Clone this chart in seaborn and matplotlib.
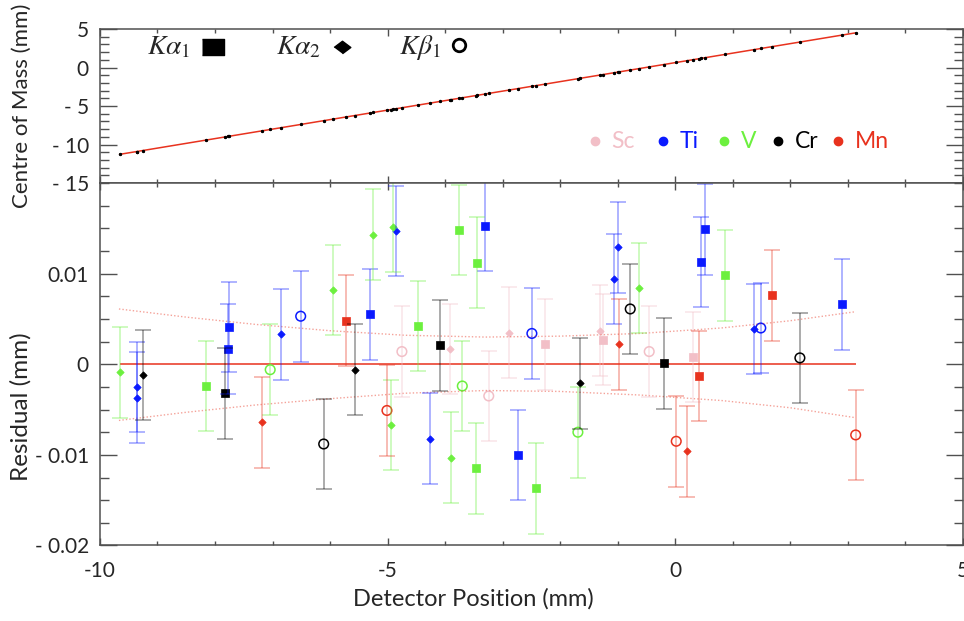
import pandas as pd
import matplotlib
matplotlib.use("Agg")
import matplotlib.pyplot as plt
from matplotlib.ticker import MultipleLocator, FixedLocator
import seaborn as sns

# elements and their colours
elements = ["Sc", "Ti", "V", "Cr", "Mn"]
element_colors = ["#f2bfc7", "#0a1aff", "#6cf03e", "#000000", "#e8321e"]

# K-alpha1 lines (squares)
ka1_elem = ["Sc", "Sc", "Sc", "Ti", "Ti", "Ti", "Ti", "Ti", "Ti", "Ti", "Ti",
            "V", "V", "V", "V", "V", "V", "V", "Cr", "Cr", "Cr", "Mn", "Mn", "Mn"]
ka1_pos = [-2.26, -1.25, 0.32, -7.76, -7.77, -5.30, -3.31, -2.74, 0.45, 0.52, 2.91,
           -8.15, -4.47, -3.75, -3.47, -3.44, -2.42, 0.86, -7.82, -4.09, -0.20,
           -5.73, 0.42, 1.69]
ka1_res = [0.0022, 0.0027, 0.0008, 0.0041, 0.0017, 0.0055, 0.0153, -0.0100, 0.0113,
           0.0149, 0.0066, -0.0024, 0.0042, 0.0148, -0.0115, 0.0112, -0.0137, 0.0098,
           -0.0032, 0.0021, 0.0001, 0.0048, -0.0013, 0.0076]
ka1_com = [-2.16, -0.91, 1.02, -8.94, -8.95, -5.90, -3.45, -2.75, 1.18, 1.27, 4.22,
           -9.42, -4.88, -3.99, -3.65, -3.61, -2.35, 1.69, -9.01, -4.41, 0.38,
           -6.44, 1.15, 2.71]

# K-alpha2 lines (diamonds)
ka2_elem = ["Sc", "Sc", "Sc", "Ti", "Ti", "Ti", "Ti", "Ti", "Ti", "Ti", "Ti",
            "V", "V", "V", "V", "V", "V", "V", "Cr", "Cr", "Cr", "Mn", "Mn", "Mn"]
ka2_pos = [-3.91, -2.88, -1.30, -9.36, -9.36, -6.85, -4.85, -4.26, -1.06, -0.99, 1.37,
           -9.66, -5.95, -5.25, -4.94, -4.90, -3.89, -0.63, -9.26, -5.57, -1.65,
           -7.18, -0.97, 0.20]
ka2_res = [0.0017, 0.0035, 0.0037, -0.0025, -0.0037, 0.0033, 0.0147, -0.0082, 0.0094,
           0.0129, 0.0039, -0.0009, 0.0082, 0.0143, -0.0067, 0.0152, -0.0103, 0.0084,
           -0.0012, -0.0006, -0.0021, -0.0064, 0.0022, -0.0096]
ka2_com = [-4.19, -2.92, -0.97, -10.91, -10.91, -7.82, -5.35, -4.62, -0.68, -0.59, 2.32,
           -11.28, -6.71, -5.84, -5.46, -5.41, -4.17, -0.15, -10.79, -6.24, -1.40,
           -8.22, -0.57, 0.88]

# K-beta1 lines (open circles)
kb1_elem = ["Sc", "Sc", "Sc", "Ti", "Ti", "Ti", "V", "V", "V",
            "Cr", "Cr", "Cr", "Mn", "Mn", "Mn"]
kb1_pos = [-4.75, -3.24, -0.45, -6.51, -2.49, 1.49, -7.04, -3.70, -1.69,
           -6.11, -0.78, 2.17, -5.01, 0.02, 3.14]
kb1_res = [0.0014, -0.0035, 0.0014, 0.0053, 0.0034, 0.0040, -0.0006, -0.0024, -0.0075,
           -0.0088, 0.0061, 0.0007, -0.0051, -0.0085, -0.0078]
kb1_com = [-5.23, -3.37, 0.08, -7.40, -2.44, 2.47, -8.05, -3.93, -1.45,
           -6.90, -0.33, 3.31, -5.55, 0.65, 4.50]

res_err = 0.005
com_err = 0.12

# confidence band of the fit (dotted curves)
band_pos = [-9.67, -8.5, -7.3, -6.0, -4.7, -3.3, -2.0, -0.6, 0.8, 2.0, 3.14]
band_hi = [0.0061, 0.0052, 0.0044, 0.0037, 0.0032, 0.0030, 0.0031, 0.0034, 0.0040, 0.0048, 0.0058]
band_lo = [-0.0062, -0.0053, -0.0045, -0.0038, -0.0032, -0.0029, -0.0030, -0.0034, -0.0040, -0.0048, -0.0059]

pos_ticks = [-10, -5, 0, 5]
pos_labels = ["-10", "-5", "0", "5"]
com_ticks = [-15, -10, -5, 0, 5]
com_labels = ["- 15", "- 10", "- 5", "0", "5"]
res_ticks = [-0.02, -0.01, 0, 0.01]
res_labels = ["- 0.02", "- 0.01", "0", "0.01"]

frames = []
for line, elem, pos, res, com in [("Ka1", ka1_elem, ka1_pos, ka1_res, ka1_com),
                                  ("Ka2", ka2_elem, ka2_pos, ka2_res, ka2_com),
                                  ("Kb1", kb1_elem, kb1_pos, kb1_res, kb1_com)]:
    frames.append(pd.DataFrame({"line": line, "elem": elem, "pos": pos, "res": res, "com": com}))
df = pd.concat(frames, ignore_index=True)

sns.set_style("ticks")
plt.rcParams["font.family"] = ["Lato", "DejaVu Sans"]
plt.rcParams["mathtext.fontset"] = "stix"

spine_col = "#505050"
red = "#e8321e"

fig = plt.figure(figsize=(9.64, 6.21), dpi=100)
ax_top = fig.add_axes([0.1037, 0.7053, 0.8949, 0.248])
ax_res = fig.add_axes([0.1037, 0.1216, 0.8949, 0.5837], sharex=ax_top)

# ---- top panel: centre of mass vs detector position ----
ax_top.errorbar(df["pos"], df["com"], yerr=com_err, fmt="o", ms=1.4, color="k",
                lw=0.5, capsize=1, capthick=0.5, zorder=3)
sns.regplot(data=df, x="pos", y="com", scatter=False, ci=None, color=red,
            line_kws={"lw": 1.1}, ax=ax_top)
ax_top.set_ylim(-15, 5)
ax_top.yaxis.set_major_locator(FixedLocator(com_ticks))
ax_top.set_yticklabels(com_labels)
ax_top.yaxis.set_minor_locator(MultipleLocator(1))
ax_top.set_xlabel("")
ax_top.set_ylabel("Centre of Mass (mm)", fontsize=16)
ax_top.yaxis.set_label_coords(-0.079, 0.5)
ax_top.tick_params(axis="x", labelbottom=False)

# line-type key
key_y = 0.883
ax_top.text(0.055, key_y, r"$K\alpha_1$", fontsize=20, va="center", transform=ax_top.transAxes)
ax_top.plot(0.131, key_y, marker=[(-1, -0.72), (1, -0.72), (1, 0.72), (-1, 0.72)], ms=16,
            color="k", transform=ax_top.transAxes)
ax_top.text(0.204, key_y, r"$K\alpha_2$", fontsize=20, va="center", transform=ax_top.transAxes)
ax_top.plot(0.281, key_y, marker=[(-1, 0), (0, 0.75), (1, 0), (0, -0.75)], ms=12,
            color="k", transform=ax_top.transAxes)
ax_top.text(0.347, key_y, r"$K\beta_1$", fontsize=20, va="center", transform=ax_top.transAxes)
ax_top.plot(0.416, 0.895, marker="o", ms=9, mfc="none", mew=2, color="k",
            transform=ax_top.transAxes)

# element key
dot_x = [0.5736, 0.6524, 0.7231, 0.7856, 0.8552]
for i, (e, c) in enumerate(zip(elements, element_colors)):
    ax_top.plot(dot_x[i], 0.271, "o", ms=6, color=c, transform=ax_top.transAxes)
    ax_top.text(dot_x[i] + 0.0195, 0.271, e, color=c, fontsize=16.5, va="center",
                transform=ax_top.transAxes)

# ---- bottom panel: residuals ----
ax_res.hlines(0, df["pos"].min(), df["pos"].max(), color=red, lw=1.1, zorder=1)
ax_res.plot(band_pos, band_hi, ls=(0, (1, 1.5)), color=red, alpha=0.45, lw=1)
ax_res.plot(band_pos, band_lo, ls=(0, (1, 1.5)), color=red, alpha=0.45, lw=1)

marker_style = {"Ka1": dict(marker="s", s=32),
                "Ka2": dict(marker="D", s=14),
                "Kb1": dict(marker="o", s=48)}
for e, c in zip(elements, element_colors):
    for line, style in marker_style.items():
        sub = df[(df["elem"] == e) & (df["line"] == line)]
        ax_res.errorbar(sub["pos"], sub["res"], yerr=res_err, fmt="none", ecolor=c,
                        alpha=0.42, elinewidth=1.1, capsize=6, capthick=1.1)
        if line == "Kb1":
            sns.scatterplot(data=sub, x="pos", y="res", color=c, facecolor="none",
                            edgecolor=c, linewidth=1.1, legend=False, ax=ax_res, **style)
        else:
            sns.scatterplot(data=sub, x="pos", y="res", color=c, edgecolor=c,
                            linewidth=0.5, legend=False, ax=ax_res, **style)

ax_res.set_ylim(-0.02, 0.02)
ax_res.yaxis.set_major_locator(FixedLocator(res_ticks))
ax_res.set_yticklabels(res_labels)
ax_res.yaxis.set_minor_locator(MultipleLocator(0.0025))
ax_res.set_xlim(-10, 5)
ax_res.xaxis.set_major_locator(FixedLocator(pos_ticks))
ax_res.set_xticklabels(pos_labels)
ax_res.xaxis.set_minor_locator(MultipleLocator(1))
ax_res.set_ylabel("Residual (mm)", fontsize=17.5)
ax_res.yaxis.set_label_coords(-0.079, 0.384)
ax_res.set_xlabel("Detector Position (mm)", fontsize=17)
ax_res.xaxis.set_label_coords(0.433, -0.118)

for ax in (ax_top, ax_res):
    ax.tick_params(which="both", direction="in", top=True, right=True, color=spine_col,
                   labelsize=15, width=1)
    ax.tick_params(axis="y", which="major", length=12, pad=8)
    ax.tick_params(axis="y", which="minor", length=6.5)
    ax.tick_params(axis="x", which="major", length=5, pad=11)
    ax.tick_params(axis="x", which="minor", length=3)
    for sp in ax.spines.values():
        sp.set_color(spine_col)
        sp.set_linewidth(1.1)

fig.savefig("out.png", dpi=100)
